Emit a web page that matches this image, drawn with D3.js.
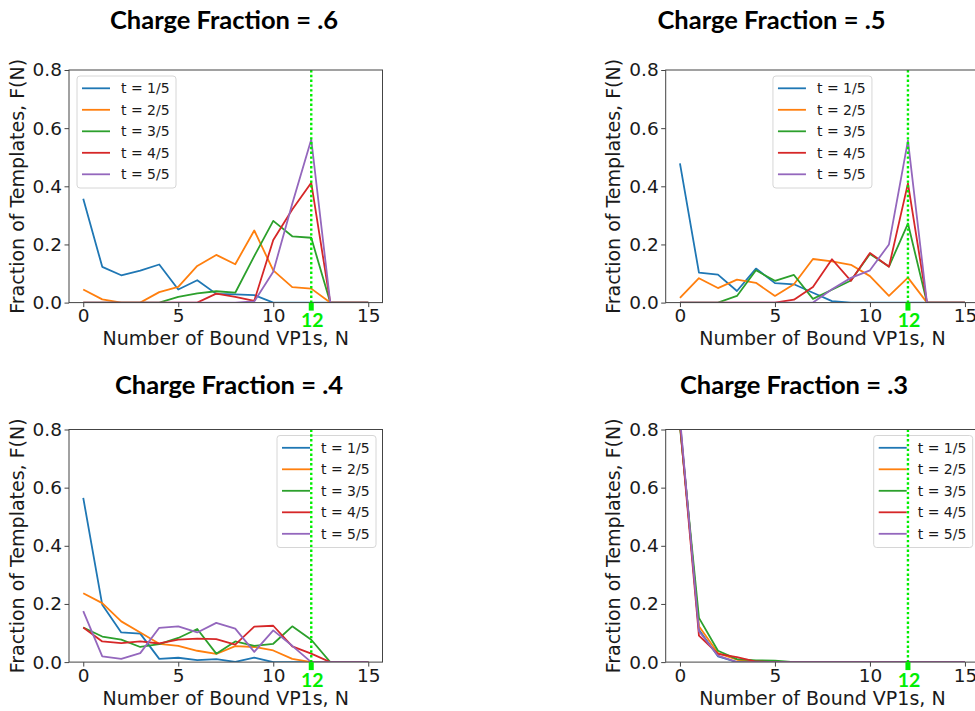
<!DOCTYPE html>
<html><head><meta charset="utf-8">
<script src="https://cdn.jsdelivr.net/npm/d3@7"></script>
<style>body{margin:0;background:#fff}</style>
</head><body>
<svg id="c" width="975" height="711"></svg>
<script>
// ---------- data ----------
const nValues = [0,1,2,3,4,5,6,7,8,9,10,11,12,13,14,15];
const xTicks = [0,5,10,15];
const yTicks = [0,0.2,0.4,0.6,0.8];
const seriesLabels = ["t = 1/5","t = 2/5","t = 3/5","t = 4/5","t = 5/5"];
const seriesColors = ["#1f77b4","#ff7f0e","#2ca02c","#d62728","#9467bd"];
const panelTitles = ["Charge Fraction = .6","Charge Fraction = .5","Charge Fraction = .4","Charge Fraction = .3"];
const xLabel = "Number of Bound VP1s, N";
const yLabel = "Fraction of Templates, F(N)";
const markerN = 12;
const markerLabel = "12";

const cf6 = [
  [0.357,0.123,0.094,0.110,0.131,0.045,0.077,0.030,0.028,0.026,0,0,0,0,0,0],
  [0.045,0.011,0,0,0.036,0.054,0.126,0.164,0.132,0.248,0.111,0.053,0.048,0,0,0],
  [0,0,0,0,0,0.020,0.032,0.039,0.034,0.160,0.281,0.228,0.223,0,0,0],
  [0,0,0,0,0,0,0,0.031,0.020,0.006,0.215,0.320,0.412,0,0,0],
  [0,0,0,0,0,0,0,0,0,0.004,0.106,0.340,0.561,0,0,0]
];
const cf5 = [
  [0.479,0.103,0.096,0.040,0.117,0.067,0.063,0.034,0.005,0,0,0,0,0,0,0],
  [0.016,0.084,0.050,0.079,0.068,0.023,0.063,0.150,0.142,0.130,0.091,0.023,0.086,0,0,0],
  [0,0,0,0.023,0.111,0.075,0.095,0.013,0.044,0.076,0.167,0.124,0.272,0,0,0],
  [0,0,0,0,0,0,0.010,0.054,0.149,0.075,0.171,0.123,0.410,0,0,0],
  [0,0,0,0,0,0,0,0,0.046,0.085,0.111,0.200,0.557,0,0,0]
];
const cf4 = [
  [0.565,0.197,0.102,0.098,0.011,0.015,0.007,0.010,0.001,0.015,0,0,0,0,0,0],
  [0.237,0.203,0.140,0.102,0.063,0.056,0.039,0.028,0.055,0.052,0.040,0.011,0,0,0,0],
  [0.119,0.088,0.077,0.052,0.062,0.083,0.114,0.029,0.071,0.056,0.063,0.123,0.077,0,0,0],
  [0.119,0.071,0.065,0.071,0.064,0.077,0.081,0.079,0.060,0.122,0.125,0.054,0.029,0,0,0],
  [0.175,0.020,0.011,0.031,0.118,0.123,0.102,0.135,0.115,0.035,0.109,0.056,0,0,0,0]
];
const cf3 = [
  [0.83,0.111,0.020,0,0,0,0,0,0,0,0,0,0,0,0,0],
  [0.82,0.123,0.031,0.008,0,0,0,0,0,0,0,0,0,0,0,0],
  [0.81,0.152,0.039,0.010,0.006,0.005,0,0,0,0,0,0,0,0,0,0],
  [0.82,0.091,0.028,0.017,0.002,0,0,0,0,0,0,0,0,0,0,0],
  [0.84,0.106,0.022,0,0,0,0,0,0,0,0,0,0,0,0,0]
];
const panelData = [cf6, cf5, cf4, cf3];

// ---------- layout ----------
const W = 313.5, H = 232.6;
const layout = [
  {left:69,    top:70,    tx:224,   ty:28.5,  leg:"left"},
  {left:665.7, top:70,    tx:771.5, ty:28.5,  leg:"center"},
  {left:69,    top:429.5, tx:229,   ty:393.5, leg:"right"},
  {left:665.7, top:429.5, tx:794,   ty:393.5, leg:"right"}
];
const green = "#00ee00";
const axisColor = "#444";
const textColor = "#1a1a1a";
const tickFont = "DejaVu Sans";

const svg = d3.select("#c");

layout.forEach((L, pi) => {
  const x = d3.scaleLinear().domain([-0.75, 15.75]).range([L.left, L.left + W]);
  const y = d3.scaleLinear().domain([0, 0.8]).range([L.top + H, L.top]);
  const g = svg.append("g");

  // title
  g.append("text").attr("x", L.tx).attr("y", L.ty)
    .attr("text-anchor", "middle")
    .style("font-family", "Lato, 'Open Sans', sans-serif").style("font-weight", "700")
    .style("font-size", "25.5px").attr("fill", "#000").text(panelTitles[pi]);

  // clip
  const cid = "clip" + pi;
  svg.append("clipPath").attr("id", cid).append("rect")
    .attr("x", L.left).attr("y", L.top).attr("width", W).attr("height", H);

  // lines
  const line = d3.line().x((d, i) => x(nValues[i])).y(d => y(d));
  const lg = g.append("g").attr("clip-path", `url(#${cid})`);
  panelData[pi].forEach((s, si) => {
    lg.append("path").datum(s).attr("d", line)
      .attr("fill", "none").attr("stroke", seriesColors[si])
      .attr("stroke-width", 1.8).attr("stroke-linejoin", "round");
  });

  // legend
  const bw = 99, bh = 112;
  let bx;
  if (L.leg === "left") bx = L.left + 8;
  else if (L.leg === "center") bx = L.left + W / 2 - bw / 2;
  else bx = L.left + W - 6.5 - bw;
  const by = L.top + 6;
  const leg = g.append("g");
  leg.append("rect").attr("x", bx).attr("y", by).attr("width", bw).attr("height", bh)
    .attr("rx", 3).attr("fill", "#fff").attr("fill-opacity", 0.85)
    .attr("stroke", "#d6d6d6").attr("stroke-width", 1);
  seriesLabels.forEach((lab, si) => {
    const ry = by + 12.3 + si * 21.5;
    leg.append("line").attr("x1", bx + 5).attr("x2", bx + 33).attr("y1", ry).attr("y2", ry)
      .attr("stroke", seriesColors[si]).attr("stroke-width", 1.8);
    leg.append("text").attr("x", bx + 44).attr("y", ry).attr("dy", "0.36em")
      .style("font-family", tickFont).style("font-size", "14px").attr("fill", textColor).text(lab);
  });

  // green marker line
  g.append("line").attr("x1", x(markerN)).attr("x2", x(markerN))
    .attr("y1", L.top).attr("y2", L.top + H)
    .attr("stroke", green).attr("stroke-width", 2.4).attr("stroke-dasharray", "2.4,2.4");

  // frame
  g.append("rect").attr("x", L.left).attr("y", L.top).attr("width", W).attr("height", H)
    .attr("fill", "none").attr("stroke", axisColor).attr("stroke-width", 1);

  // axes
  const xa = g.append("g").attr("transform", `translate(0,${L.top + H})`)
    .call(d3.axisBottom(x).tickValues(xTicks).tickSize(4.5).tickSizeOuter(0).tickPadding(2.2).tickFormat(d3.format("d")));
  const ya = g.append("g").attr("transform", `translate(${L.left},0)`)
    .call(d3.axisLeft(y).tickValues(yTicks).tickSize(4.5).tickSizeOuter(0).tickPadding(2.5).tickFormat(d3.format(".1f")));
  [xa, ya].forEach(a => {
    a.select(".domain").remove();
    a.selectAll("line").attr("stroke", axisColor);
    a.selectAll("text").style("font-family", tickFont).style("font-size", "18.5px").attr("fill", textColor);
  });

  // green tick + label
  g.append("rect").attr("x", x(markerN) - 2.5).attr("y", L.top + H).attr("width", 5).attr("height", 8)
    .attr("fill", green);
  g.append("text").attr("x", x(markerN) + 1).attr("y", L.top + H + 24.5)
    .attr("text-anchor", "middle").style("font-family", "Lato, sans-serif").style("font-weight", "700")
    .style("font-size", "19.5px").attr("fill", green).text(markerLabel);

  // axis labels
  g.append("text").attr("x", L.left + W / 2).attr("y", L.top + H + 42.7)
    .attr("text-anchor", "middle").style("font-family", tickFont).style("font-size", "19px")
    .attr("fill", textColor).text(xLabel);
  g.append("text").attr("transform", `translate(${L.left - 45.5},${L.top + H / 2}) rotate(-90)`)
    .attr("text-anchor", "middle").style("font-family", tickFont).style("font-size", "19px")
    .attr("fill", textColor).text(yLabel);
});
</script>
</body></html>
